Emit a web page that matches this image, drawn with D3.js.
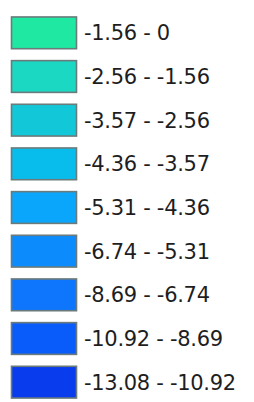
<!DOCTYPE html>
<html><head><meta charset="utf-8">
<script src="https://cdn.jsdelivr.net/npm/d3@7"></script>
<style>html,body{margin:0;padding:0;background:#fff;overflow:hidden}</style>
</head><body>
<svg id="c" width="254" height="402"></svg>
<script>
const labels = ["-1.56 - 0","-2.56 - -1.56","-3.57 - -2.56","-4.36 - -3.57","-5.31 - -4.36","-6.74 - -5.31","-8.69 - -6.74","-10.92 - -8.69","-13.08 - -10.92"];
const colors = ["#1ee8a2","#1ad8c2","#12c8d8","#08bcec","#0aa6fc","#0c8cfc","#0e76fc","#0a5cfa","#083cec"];

const svg = d3.select("#c");
const y = d3.scaleBand().domain(d3.range(labels.length)).range([11, 404]).paddingInner(0.25).paddingOuter(0.125);
const g = svg.selectAll("g.item").data(labels).join("g").attr("class","item")
  .attr("transform",(d,i)=>`translate(0,${y(i)})`);
g.append("rect").attr("x",11.5).attr("y",0.5).attr("width",65).attr("height",y.bandwidth()-1)
  .attr("fill",(d,i)=>colors[i]).attr("stroke","#6b7b7b").attr("stroke-width",1.6);
g.append("text").attr("x",84).attr("y",y.bandwidth()/2).attr("dy","0.36em")
  .attr("font-family","DejaVu Sans").attr("font-size",21).attr("fill","#1e1e1e")
  .attr("letter-spacing",-0.3)
  .text(d=>d);
</script>
</body></html>
